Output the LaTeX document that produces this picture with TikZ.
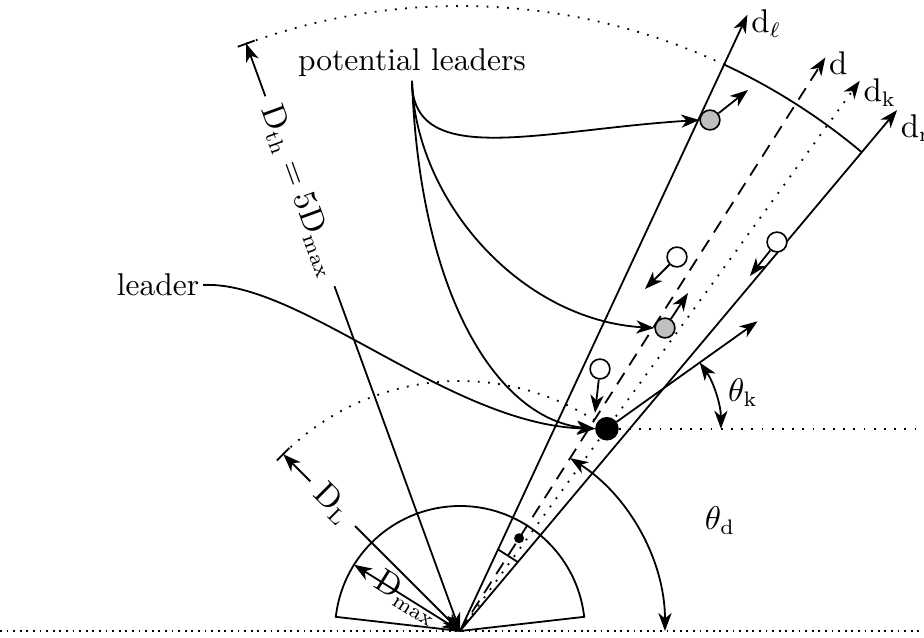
\documentclass[tikz,border=0pt]{standalone}
\usetikzlibrary{arrows.meta}
\begin{document}
\begin{tikzpicture}[x=0.3333pt,y=0.3333pt, line width=0.6pt,
  >={Stealth[length=6pt,width=4.4pt,inset=1.8pt]},
  dotln/.style={line width=0.6pt, dash pattern=on 0.6pt off 2.8pt},
  finedots/.style={line width=0.6pt, dash pattern=on 0.6pt off 1.6pt},
  veh/.style={circle, draw, line width=0.55pt, minimum size=6.6pt, inner sep=0pt},
  lbl/.style={font=\fontsize{10.5}{12}\selectfont}]
\useasboundingbox (-460,-6) rectangle (464,631);
\coordinate (O) at (0,0);
\coordinate (rEdge) at (464,0);
% baseline
\draw[finedots] (-460,0) -- (rEdge);
% sector of radius Dmax
\draw (O) -- (6.5:125) arc[start angle=6.5, end angle=173.5, radius=125] -- cycle;
% rays
\draw[->] (O) -- (65:680) node[lbl, anchor=west, yshift=-3pt, inner sep=1pt] {$\mathrm{d}_\ell$};
\draw[->] (O) -- (50:680) node[lbl, anchor=west, yshift=-6pt, inner sep=1pt] {$\mathrm{d}_\mathrm{r}$};
\draw[->, dash pattern=on 4.5pt off 3pt] (O) -- (57.5:680) node[lbl, anchor=west, yshift=-2pt, inner sep=1pt] {$\mathrm{d}$};
\draw[->, dotln] (O) -- (54:680) node[lbl, anchor=west, yshift=-4pt, inner sep=1pt] {$\mathrm{d}_\mathrm{k}$};
% D_th arc
\draw (65:625) arc[start angle=65, end angle=50, radius=625];
\draw[dotln] (110:625) arc[start angle=110, end angle=65, radius=625];
\coordinate (tth) at (110:625);
\draw (110:625) ++(20:9) -- ++(200:18);
\node[lbl, rotate=-70] (dth) at (110:468) {$\mathrm{D}_\mathrm{th}=5\mathrm{D}_\mathrm{max}$};
\draw[->] (dth) -- (tth);
\draw[->] (dth) -- (O);
% D_L
\draw[dotln] (135:250) arc[start angle=135, end angle=54, radius=250];
\coordinate (tl) at (135:250);
\draw (135:250) ++(45:9) -- ++(225:18);
\node[lbl, rotate=-45] (dl) at (135:180) {$\mathrm{D}_\mathrm{L}$};
\draw[->] (dl) -- (tl);
\draw[->] (dl) -- (O);
% D_max
\coordinate (tm) at (148:125);
\draw[<->] (O) -- node[lbl, sloped] {$\mathrm{D}_\mathrm{max}$} (tm);
% chord and small dot
\draw (65:90) -- (50:90);
\fill (57.5:110) circle[radius=5];
% theta_d
\draw[<->] (0:205) arc[start angle=0, end angle=57.5, radius=205];
\node[lbl] (thd) at (260,110) {$\theta_\mathrm{d}$};
% leader and theta_k
\node[veh, fill=black, minimum size=7.3pt] (ld) at (54:250) {};
\draw[dotln] (ld.east) -- (ld.east -| rEdge);
\path (ld.center) ++(35.5:185) coordinate (hk);
\draw[->] (ld) -- (hk);
\path (ld.center) ++(114,0) coordinate (tk0);
\draw[<->] (tk0) arc[start angle=0, end angle=35.5, radius=114];
\node[lbl] (thk) at (283,238) {$\theta_\mathrm{k}$};
% other vehicles
\node[veh, fill=gray!50] (g1) at (250,511) {};
\node[veh, fill=gray!50] (g2) at (205,303) {};
\node[veh, fill=white] (w1) at (217,374) {};
\node[veh, fill=white] (w2) at (317,389) {};
\node[veh, fill=white] (w3) at (140,262) {};
\coordinate (g1v) at (288,541);
\coordinate (g2v) at (228,338);
\coordinate (w1v) at (185,342);
\coordinate (w2v) at (290,355);
\coordinate (w3v) at (135,218);
\draw[->] (g1) -- (g1v);
\draw[->] (g2) -- (g2v);
\draw[->] (w1) -- (w1v);
\draw[->] (w2) -- (w2v);
\draw[->] (w3) -- (w3v);
% labels and curves
\node[lbl, inner sep=1pt] (pl) at (-48,568) {potential leaders};
\node[lbl, inner sep=1pt] (lead) at (-302,346) {leader};
\draw[->] (pl.south) .. controls (-48,461) and (80,501) .. (g1.west);
\draw[->] (pl.south) .. controls (-45,431) and (60,311) .. (g2.west);
\draw[->] (pl.south) .. controls (-40,331) and (40,211) .. (ld.west);
\draw[->] (lead.east) .. controls (-160,351) and (-10,206) .. (ld.west);
\end{tikzpicture}
\end{document}
